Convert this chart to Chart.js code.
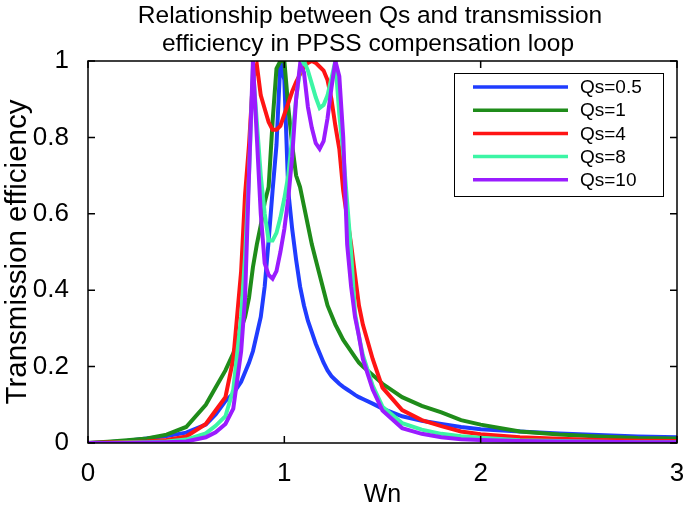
<!DOCTYPE html>
<html>
<head>
<meta charset="utf-8">
<script src="https://cdn.jsdelivr.net/npm/chart.js@4.4.1/dist/chart.umd.min.js"></script>
<style>
  html, body { margin: 0; padding: 0; background: #fff; }
  #wrap { width: 685px; height: 512px; }
</style>
</head>
<body>
<div id="wrap"><canvas id="myChart" width="685" height="512"></canvas></div>
<script>
// Wn values, finer near the resonance
const wn = [0, 0.1, 0.2, 0.3, 0.4, 0.5, 0.6, 0.65, 0.7, 0.74, 0.78,
  0.8, 0.82, 0.84, 0.86, 0.88, 0.9, 0.92, 0.94, 0.96, 0.98,
  1.0, 1.02, 1.04, 1.06, 1.08, 1.1, 1.12, 1.14, 1.16, 1.18,
  1.2, 1.22, 1.24, 1.26, 1.28, 1.3, 1.32, 1.34, 1.36, 1.38,
  1.4, 1.45, 1.5, 1.6, 1.7, 1.8, 1.9, 2.0, 2.2, 2.4, 2.6, 2.8, 3.0];

const qs05 = [0, 0.002, 0.006, 0.012, 0.018, 0.027, 0.048, 0.075, 0.11, 0.13, 0.16,
  0.185, 0.21, 0.24, 0.285, 0.33, 0.41, 0.53, 0.66, 0.78, 1,
  0.95, 0.66, 0.56, 0.48, 0.41, 0.36, 0.32, 0.29, 0.26, 0.235,
  0.21, 0.19, 0.175, 0.165, 0.155, 0.147, 0.14, 0.133, 0.126, 0.12,
  0.115, 0.103, 0.09, 0.07, 0.058, 0.05, 0.042, 0.036, 0.03, 0.025, 0.021, 0.017, 0.015];

const qs1 = [0, 0.003, 0.007, 0.012, 0.022, 0.042, 0.1, 0.145, 0.19, 0.235, 0.3,
  0.33, 0.38, 0.46, 0.52, 0.57, 0.63, 0.67, 0.84, 0.98, 1,
  1, 0.88, 0.78, 0.7, 0.67, 0.62, 0.57, 0.52, 0.48, 0.44,
  0.4, 0.36, 0.335, 0.31, 0.29, 0.27, 0.255, 0.24, 0.225, 0.21,
  0.2, 0.178, 0.155, 0.12, 0.097, 0.08, 0.06, 0.048, 0.03, 0.022, 0.017, 0.013, 0.012];

const qs4 = [0, 0.001, 0.002, 0.004, 0.008, 0.017, 0.05, 0.085, 0.12, 0.22, 0.45,
  0.65, 0.78, 0.95, 0.99, 0.91, 0.875, 0.84, 0.82, 0.82, 0.83,
  0.86, 0.89, 0.92, 0.945, 0.965, 0.985, 0.995, 1, 0.995, 0.985,
  0.975, 0.95, 0.9, 0.83, 0.77, 0.66, 0.59, 0.52, 0.44, 0.36,
  0.31, 0.22, 0.145, 0.086, 0.06, 0.044, 0.03, 0.023, 0.015, 0.011, 0.008, 0.006, 0.005];

const qs8 = [0, 0, 0.001, 0.002, 0.004, 0.009, 0.025, 0.045, 0.07, 0.14, 0.33,
  0.49, 0.7, 0.98, 0.84, 0.7, 0.6, 0.53, 0.53, 0.55, 0.59,
  0.64, 0.7, 0.8, 0.9, 0.98, 1, 0.975, 0.94, 0.905, 0.877,
  0.885, 0.91, 0.955, 1, 0.86, 0.76, 0.63, 0.5, 0.34, 0.28,
  0.23, 0.15, 0.095, 0.052, 0.035, 0.024, 0.018, 0.014, 0.007, 0.005, 0.003, 0.002, 0.002];

const qs10 = [0, 0, 0, 0.001, 0.002, 0.004, 0.015, 0.028, 0.05, 0.09, 0.24,
  0.38, 0.7, 1, 0.8, 0.6, 0.47, 0.44, 0.43, 0.45, 0.5,
  0.56, 0.64, 0.75, 0.9, 0.99, 0.97, 0.88, 0.825, 0.785, 0.77,
  0.79, 0.85, 0.93, 1, 0.96, 0.8, 0.52, 0.41, 0.33, 0.28,
  0.22, 0.14, 0.085, 0.039, 0.024, 0.015, 0.01, 0.008, 0.005, 0.004, 0.003, 0.002, 0.002];

const seriesLabels = ['Qs=0.5', 'Qs=1', 'Qs=4', 'Qs=8', 'Qs=10'];
const seriesColors = ['#1f3cff', '#1f8c1a', '#ff1414', '#3cf5a5', '#9a1cff'];
const xTicks = [0, 1, 2, 3];
const yTicks = [0, 0.2, 0.4, 0.6, 0.8, 1];
const titleLines = ['Relationship between Qs and transmission', 'efficiency in PPSS compensation loop'];

const font = 'Liberation Sans';
const allSeries = [qs05, qs1, qs4, qs8, qs10];

// two-line title, centred a little left of the plot centre like the original
const titlePlugin = {
  id: 'topTitle',
  afterDraw(chart) {
    const c = chart.ctx;
    c.save();
    c.fillStyle = '#000';
    c.font = '24.5px "' + font + '"';
    c.textAlign = 'center';
    c.textBaseline = 'middle';
    c.fillText(titleLines[0], 370, 16);
    c.fillText(titleLines[1], 368, 44);
    c.restore();
  }
};

// box round the axes, inward ticks, and the legend inside the plot
const framePlugin = {
  id: 'frame',
  afterDatasetsDraw(chart) {
    const { ctx, chartArea: a, scales } = chart;
    const x = scales.x, y = scales.y;
    ctx.save();
    ctx.strokeStyle = '#000';
    ctx.lineWidth = 1.5;
    ctx.strokeRect(a.left, a.top, a.right - a.left, a.bottom - a.top);
    const len = 7;
    ctx.beginPath();
    xTicks.forEach(v => {
      const px = x.getPixelForValue(v);
      ctx.moveTo(px, a.bottom); ctx.lineTo(px, a.bottom - len);
      ctx.moveTo(px, a.top); ctx.lineTo(px, a.top + len);
    });
    yTicks.forEach(v => {
      const py = y.getPixelForValue(v);
      ctx.moveTo(a.left, py); ctx.lineTo(a.left + len, py);
      ctx.moveTo(a.right, py); ctx.lineTo(a.right - len, py);
    });
    ctx.stroke();

    // legend
    const bx = a.right - 223, by = a.top + 12, bw = 209, bh = 123;
    ctx.fillStyle = '#fff';
    ctx.fillRect(bx, by, bw, bh);
    ctx.lineWidth = 1;
    ctx.strokeRect(bx + 0.5, by + 0.5, bw, bh);
    ctx.font = '19px "' + font + '"';
    ctx.textBaseline = 'middle';
    ctx.textAlign = 'left';
    chart.data.datasets.forEach((ds, i) => {
      const ry = by + 14 + i * 23.2;
      ctx.strokeStyle = ds.borderColor;
      ctx.lineWidth = 3.5;
      ctx.beginPath();
      ctx.moveTo(bx + 19, ry); ctx.lineTo(bx + 114, ry);
      ctx.stroke();
      ctx.fillStyle = '#000';
      ctx.fillText(ds.label, bx + 126, ry + 1);
    });
    ctx.restore();
  }
};

const ctx = document.getElementById('myChart');

new Chart(ctx, {
  type: 'line',
  data: {
    datasets: allSeries.map((vals, i) => ({
      label: seriesLabels[i],
      data: wn.map((w, j) => ({ x: w, y: vals[j] })),
      borderColor: seriesColors[i],
      borderWidth: 4,
      pointRadius: 0,
      tension: 0,
      fill: false,
      order: 5 - i,
    })),
  },
  options: {
    responsive: false,
    animation: false,
    layout: { padding: { top: 61, right: 8, left: 0, bottom: 0 } },
    plugins: {
      legend: { display: false },
      tooltip: { enabled: false },
      title: { display: false },
    },
    scales: {
      x: {
        type: 'linear',
        min: 0,
        max: 3,
        afterFit: (s) => { s.height = 69; s.paddingLeft = 0; s.paddingRight = 0; },
        afterBuildTicks: (s) => { s.ticks = xTicks.map(v => ({ value: v })); },
        grid: { display: false },
        border: { display: false },
        ticks: { color: '#000', padding: 7, maxRotation: 0, font: { family: font, size: 26 } },
        title: {
          display: true,
          text: 'Wn',
          color: '#000',
          font: { family: font, size: 25 },
          padding: { top: 0, bottom: 2 },
        },
      },
      y: {
        min: 0,
        max: 1,
        afterFit: (s) => { s.width = 88; s.paddingTop = 0; s.paddingBottom = 0; },
        afterBuildTicks: (s) => { s.ticks = yTicks.map(v => ({ value: v })); },
        grid: { display: false },
        border: { display: false },
        ticks: {
          color: '#000',
          padding: 11,
          font: { family: font, size: 26 },
          callback: (v) => String(Math.round(v * 10) / 10),
        },
        title: {
          display: true,
          text: 'Transmission efficiency',
          color: '#000',
          font: { family: font, size: 29.5 },
          padding: { top: 0, bottom: 0 },
        },
      },
    },
  },
  plugins: [framePlugin, titlePlugin],
});
</script>
</body>
</html>
